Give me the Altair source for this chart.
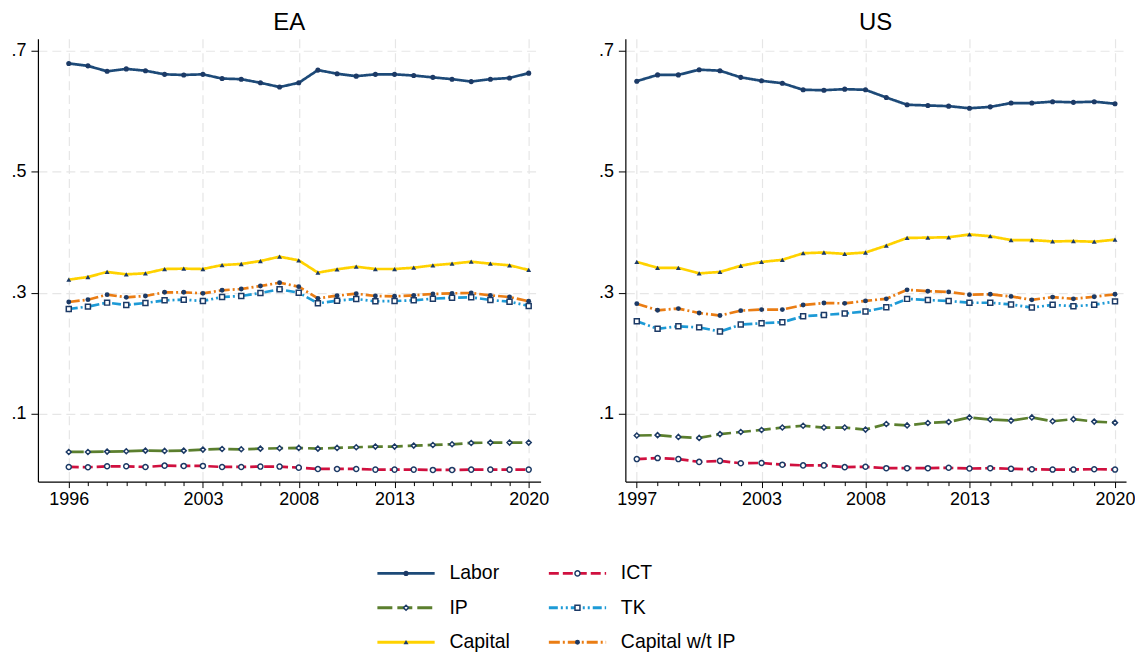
import altair as alt
import pandas as pd

FONT = "Liberation Sans"
NAVY = "#1c3a66"

series = ["Labor", "ICT", "IP", "TK", "Capital", "Capital w/t IP"]
colors = ["#1d4a78", "#d0103f", "#5b7f2e", "#1d9ad6", "#ffd200", "#ea7d14"]
dashes = [[1, 0], [10, 4], [15, 5], [9, 3, 2, 3, 2, 3], [1, 0], [11, 3, 2, 3]]
shapes = ["circle", "circle", "diamond", "square", "triangle-up", "circle"]
sizes = [26, 24, 34, 30, 66, 30]
hollow = ["ICT", "IP", "TK"]

years_ea = list(range(1996, 2021))
years_us = list(range(1997, 2021))
major_ea = [1996, 2003, 2008, 2013, 2020]
major_us = [1997, 2003, 2008, 2013, 2020]
y_ticks = [0.1, 0.3, 0.5, 0.7]

ea_labor = [0.679, 0.675, 0.666, 0.670, 0.667, 0.661, 0.660, 0.661, 0.654, 0.653, 0.647, 0.640, 0.647,
            0.668, 0.662, 0.658, 0.661, 0.661, 0.659, 0.656, 0.653, 0.649, 0.653, 0.655, 0.663]
ea_ict = [0.0118, 0.0113, 0.0129, 0.0129, 0.0118, 0.0140, 0.0135, 0.0135, 0.0118, 0.0118, 0.0124, 0.0124,
          0.0107, 0.0085, 0.0085, 0.0085, 0.0074, 0.0074, 0.0074, 0.0069, 0.0069, 0.0074, 0.0074, 0.0074, 0.0074]
ea_ip = [0.0366, 0.0366, 0.0372, 0.0377, 0.0388, 0.0383, 0.0388, 0.0405, 0.0416, 0.0410, 0.0421, 0.0427,
         0.0433, 0.0421, 0.0433, 0.0444, 0.0455, 0.0455, 0.0471, 0.0482, 0.0493, 0.0515, 0.0521, 0.0521, 0.0521]
ea_tk = [0.2730, 0.2769, 0.2835, 0.2796, 0.2829, 0.2873, 0.2884, 0.2862, 0.2928, 0.2945, 0.2994, 0.3055,
         0.3000, 0.2824, 0.2868, 0.2895, 0.2857, 0.2862, 0.2873, 0.2901, 0.2917, 0.2923, 0.2879, 0.2851, 0.2780]
ea_capital = [0.3215, 0.3259, 0.3342, 0.3303, 0.3320, 0.3391, 0.3397, 0.3391, 0.3457, 0.3474, 0.3523, 0.3595,
              0.3534, 0.3331, 0.3386, 0.3430, 0.3391, 0.3391, 0.3413, 0.3452, 0.3479, 0.3512, 0.3479, 0.3452, 0.3375]
ea_capw = [0.2846, 0.2884, 0.2967, 0.2923, 0.2945, 0.3006, 0.3006, 0.2989, 0.3039, 0.3061, 0.3110, 0.3165,
           0.3099, 0.2906, 0.2950, 0.2983, 0.2945, 0.2940, 0.2956, 0.2978, 0.2989, 0.2994, 0.2956, 0.2928, 0.2857]

us_labor = [0.6497, 0.6601, 0.6601, 0.6687, 0.6670, 0.6560, 0.6503, 0.6463, 0.6354, 0.6348, 0.6365, 0.6354,
            0.6227, 0.6107, 0.6095, 0.6084, 0.6049, 0.6072, 0.6135, 0.6135, 0.6158, 0.6147, 0.6158, 0.6124]
us_ict = [0.0248, 0.0265, 0.0248, 0.0202, 0.0219, 0.0179, 0.0184, 0.0156, 0.0144, 0.0144, 0.0115, 0.0121,
          0.0098, 0.0098, 0.0098, 0.0104, 0.0092, 0.0098, 0.0087, 0.0081, 0.0075, 0.0075, 0.0081, 0.0075]
us_ip = [0.0638, 0.0644, 0.0615, 0.0598, 0.0661, 0.0696, 0.0730, 0.0770, 0.0799, 0.0770, 0.0770, 0.0736,
         0.0828, 0.0805, 0.0845, 0.0862, 0.0937, 0.0902, 0.0885, 0.0937, 0.0874, 0.0908, 0.0868, 0.0851]
us_tk = [0.2529, 0.2403, 0.2443, 0.2426, 0.2357, 0.2472, 0.2495, 0.2512, 0.2609, 0.2632, 0.2655, 0.2690,
         0.2759, 0.2897, 0.2879, 0.2862, 0.2833, 0.2833, 0.2805, 0.2753, 0.2799, 0.2776, 0.2799, 0.2856]
us_capital = [0.3508, 0.3411, 0.3411, 0.3319, 0.3342, 0.3445, 0.3508, 0.3543, 0.3652, 0.3664, 0.3641, 0.3664,
              0.3778, 0.3905, 0.3910, 0.3916, 0.3962, 0.3933, 0.3870, 0.3870, 0.3847, 0.3853, 0.3842, 0.3876]
us_capw = [0.2818, 0.2709, 0.2737, 0.2663, 0.2622, 0.2703, 0.2720, 0.2720, 0.2795, 0.2829, 0.2823, 0.2864,
           0.2898, 0.3047, 0.3024, 0.3013, 0.2967, 0.2973, 0.2938, 0.2881, 0.2927, 0.2898, 0.2933, 0.2973]

legend_col = [0, 1, 0, 1, 0, 1]
legend_row = [0, 0, 1, 1, 2, 2]

ea_vals = dict(zip(series, [ea_labor, ea_ict, ea_ip, ea_tk, ea_capital, ea_capw]))
us_vals = dict(zip(series, [us_labor, us_ict, us_ip, us_tk, us_capital, us_capw]))

rows = []
for s in series:
    for yr, v in zip(years_ea, ea_vals[s]):
        rows.append({"region": "EA", "series": s, "year": yr, "value": v})
    for yr, v in zip(years_us, us_vals[s]):
        rows.append({"region": "US", "series": s, "year": yr, "value": v})
df = pd.DataFrame(rows)

color_scale = alt.Scale(domain=series, range=colors)
dash_scale = alt.Scale(domain=series, range=dashes)
shape_scale = alt.Scale(domain=series, range=shapes)
size_scale = alt.Scale(domain=series, range=sizes)
y_scale = alt.Scale(domain=[-0.0124, 0.7198], nice=False, zero=False)


def point_layers(base, x, y):
    filled_pts = base.transform_filter(
        alt.FieldOneOfPredicate(field="series", oneOf=[s for s in series if s not in hollow])
    ).mark_point(filled=True, color=NAVY, opacity=1).encode(
        x=x, y=y,
        shape=alt.Shape("series:N", scale=shape_scale, legend=None),
        size=alt.Size("series:N", scale=size_scale, legend=None),
    )
    hollow_pts = base.transform_filter(
        alt.FieldOneOfPredicate(field="series", oneOf=hollow)
    ).mark_point(filled=True, fill="white", stroke=NAVY, strokeWidth=1.5, opacity=1).encode(
        x=x, y=y,
        shape=alt.Shape("series:N", scale=shape_scale, legend=None),
        size=alt.Size("series:N", scale=size_scale, legend=None),
    )
    return filled_pts, hollow_pts


def panel(region, years, major, xdom, width):
    data = df[df["region"] == region]
    test = "indexof(%s, datum.value) >= 0" % str(major)
    xaxis = alt.Axis(
        values=years,
        labelExpr=test + " ? format(datum.value, 'd') : ''",
        tickSize={"condition": {"test": test, "value": 6}, "value": 4},
        gridOpacity={"condition": {"test": test, "value": 1}, "value": 0},
        grid=True, title=None, labelPadding=3, labelOverlap=False, labelFlush=False,
    )
    yaxis = alt.Axis(
        values=y_ticks,
        labelExpr="replace(format(datum.value, '.1f'), '0.', '.')",
        tickSize=7, labelPadding=5, grid=True, title=None,
    )
    x = alt.X("year:Q", scale=alt.Scale(domain=xdom, nice=False, zero=False), axis=xaxis)
    y = alt.Y("value:Q", scale=y_scale, axis=yaxis)
    base = alt.Chart(data)
    lines = base.mark_line(strokeWidth=2.7).encode(
        x=x, y=y,
        color=alt.Color("series:N", scale=color_scale, legend=None),
        strokeDash=alt.StrokeDash("series:N", scale=dash_scale, legend=None),
    )
    filled_pts, hollow_pts = point_layers(base, x, y)
    return alt.layer(lines, filled_pts, hollow_pts).properties(
        width=width, height=444,
        title=alt.TitleParams(region, fontSize=24, font=FONT, fontWeight="normal",
                              anchor="middle", frame="group", offset=4, color="black"),
    )


ea = panel("EA", years_ea, major_ea, [1994.39, 2020.62], 504)
us = panel("US", years_us, major_us, [1996.45, 2020.53], 502)

leg = pd.DataFrame({"series": series, "col": legend_col, "row": legend_row})
lx = alt.Scale(domain=[-1.98, 3.837], nice=False, zero=False)
ly = alt.Scale(domain=[-0.45, 2.15], nice=False, zero=False, reverse=True)
lbase = alt.Chart(leg).transform_calculate(
    x0="datum.col", x1="datum.col + 0.334", xm="datum.col + 0.167", xt="datum.col + 0.42"
)
lxm = alt.X("xm:Q", scale=lx, axis=None)
lyr = alt.Y("row:Q", scale=ly, axis=None)
l_lines = lbase.mark_rule(strokeWidth=3).encode(
    x=alt.X("x0:Q", scale=lx, axis=None), x2="x1:Q", y=lyr,
    color=alt.Color("series:N", scale=color_scale, legend=None),
    strokeDash=alt.StrokeDash("series:N", scale=dash_scale, legend=None),
)
l_filled, l_hollow = point_layers(lbase, lxm, lyr)
l_text = lbase.mark_text(align="left", baseline="middle", fontSize=19.5, font=FONT, color="black").encode(
    x=alt.X("xt:Q", scale=lx, axis=None), y=lyr, text="series:N",
)
legend = alt.layer(l_lines, l_filled, l_hollow, l_text).properties(width=1000, height=89.7)

top = alt.hconcat(ea, us, spacing=48)
chart = alt.vconcat(top, legend, spacing=49.5).properties(
    padding={"left": 2, "top": 2, "right": 0, "bottom": 0}
).configure_view(stroke=None).configure_axis(
    domainColor="black", domainWidth=1.2, tickColor="black", tickWidth=1,
    gridColor="#e6e6e6", gridDash=[9, 5], gridWidth=1.2,
    labelColor="black", labelFont=FONT, labelFontSize=18,
)

chart.save("out.html", embed_options={"renderer": "svg", "actions": False})
